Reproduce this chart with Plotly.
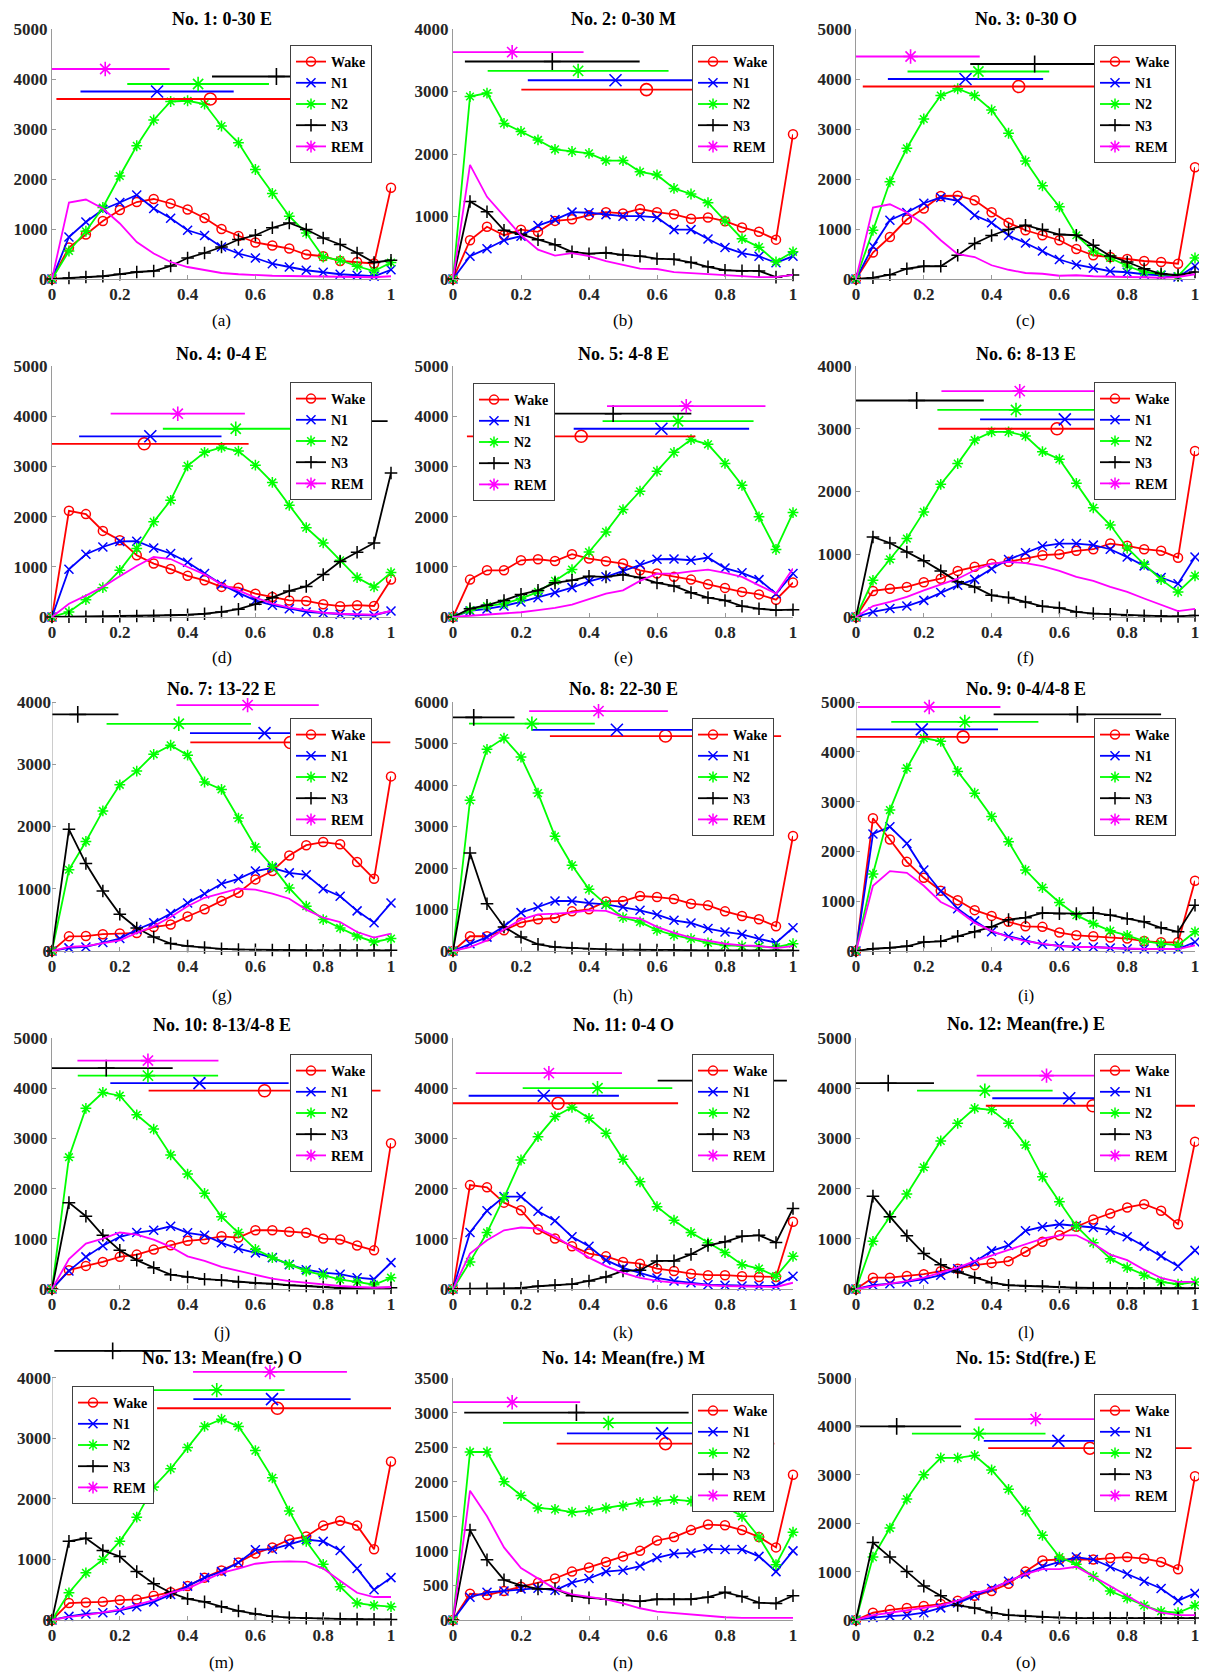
import plotly.graph_objects as go

# ---------------- data ----------------
x_bins = [0.0, 0.05, 0.1, 0.15, 0.2, 0.25, 0.3, 0.35, 0.4, 0.45, 0.5,
          0.55, 0.6, 0.65, 0.7, 0.75, 0.8, 0.85, 0.9, 0.95, 1.0]
stages = ["Wake", "N1", "N2", "N3", "REM"]
titles = ["No. 1: 0-30 E", "No. 2: 0-30 M", "No. 3: 0-30 O", "No. 4: 0-4 E",
          "No. 5: 4-8 E", "No. 6: 8-13 E", "No. 7: 13-22 E", "No. 8: 22-30 E",
          "No. 9: 0-4/4-8 E", "No. 10: 8-13/4-8 E", "No. 11: 0-4 O",
          "No. 12: Mean(fre.) E", "No. 13: Mean(fre.) O", "No. 14: Mean(fre.) M",
          "No. 15: Std(fre.) E"]
panel_labels = ["(a)", "(b)", "(c)", "(d)", "(e)", "(f)", "(g)", "(h)", "(i)",
                "(j)", "(k)", "(l)", "(m)", "(n)", "(o)"]
y_max = [5000, 4000, 5000, 5000, 5000, 4000, 4000, 6000, 5000, 5000, 5000, 5000, 4000, 3500, 5000]
y_step = [1000, 1000, 1000, 1000, 1000, 1000, 1000, 1000, 1000, 1000, 1000, 1000, 1000, 500, 1000]

# panel 1
p01_wake = [0, 630, 890, 1160, 1380, 1540, 1600, 1510, 1390, 1220, 1000, 860, 730, 670, 610, 490, 455, 360, 340, 310, 1825]
p01_n1 = [0, 840, 1140, 1390, 1530, 1680, 1410, 1215, 975, 870, 640, 510, 420, 305, 240, 175, 135, 95, 75, 55, 185]
p01_n2 = [0, 560, 955, 1430, 2060, 2665, 3180, 3550, 3565, 3500, 3060, 2725, 2190, 1710, 1255, 920, 440, 375, 255, 160, 330]
p01_n3 = [0, 20, 40, 55, 95, 140, 160, 260, 420, 520, 640, 790, 875, 1025, 1120, 990, 820, 690, 520, 330, 375]
p01_rem = [0, 1530, 1590, 1410, 1110, 740, 510, 340, 240, 175, 120, 95, 75, 65, 60, 55, 45, 40, 40, 35, 55]
p01_bar_y = [3600, 3750, 3900, 4050, 4200]
p01_bar_mean = [0.467, 0.31, 0.431, 0.662, 0.157]
p01_bar_std = [0.454, 0.226, 0.209, 0.19, 0.19]

# panel 2
p02_wake = [0, 620, 835, 700, 790, 755, 930, 955, 1020, 1070, 1050, 1120, 1070, 1035, 965, 985, 925, 825, 755, 630, 2315]
p02_n1 = [0, 365, 485, 620, 685, 855, 950, 1070, 1060, 1030, 1005, 1005, 985, 790, 790, 640, 505, 415, 365, 260, 365]
p02_n2 = [0, 2920, 2975, 2490, 2360, 2225, 2075, 2040, 2010, 1895, 1895, 1715, 1665, 1450, 1360, 1220, 930, 645, 510, 275, 435]
p02_n3 = [0, 1240, 1075, 780, 715, 630, 550, 435, 405, 420, 385, 365, 325, 315, 265, 195, 140, 130, 130, 30, 65]
p02_rem = [0, 1825, 1315, 1005, 700, 470, 375, 415, 365, 285, 220, 165, 160, 110, 95, 75, 60, 45, 30, 30, 65]
p02_bar_y = [3030, 3180, 3330, 3480, 3630]
p02_bar_mean = [0.569, 0.478, 0.368, 0.292, 0.174]
p02_bar_std = [0.368, 0.258, 0.266, 0.257, 0.21]

# panel 3
p03_wake = [0, 530, 840, 1190, 1410, 1660, 1665, 1575, 1335, 1125, 975, 875, 775, 600, 475, 440, 400, 360, 340, 305, 2235]
p03_n1 = [0, 655, 1175, 1330, 1515, 1630, 1565, 1275, 1125, 870, 720, 560, 390, 285, 220, 155, 135, 95, 75, 40, 260]
p03_n2 = [0, 975, 1945, 2615, 3200, 3670, 3805, 3670, 3380, 2915, 2360, 1865, 1445, 875, 560, 420, 260, 140, 95, 60, 420]
p03_n3 = [0, 25, 85, 205, 255, 255, 475, 710, 870, 990, 1075, 990, 890, 875, 675, 460, 340, 205, 105, 75, 140]
p03_rem = [0, 1430, 1495, 1330, 1095, 775, 495, 440, 275, 185, 120, 105, 65, 75, 55, 40, 40, 35, 25, 40, 95]
p03_bar_y = [3850, 4000, 4150, 4300, 4450]
p03_bar_mean = [0.48, 0.323, 0.361, 0.527, 0.161]
p03_bar_std = [0.46, 0.229, 0.209, 0.19, 0.204]

# panel 4
p04_wake = [0, 2115, 2050, 1715, 1530, 1230, 1065, 955, 820, 730, 600, 585, 465, 400, 330, 320, 255, 215, 235, 220, 745]
p04_n1 = [0, 950, 1250, 1395, 1505, 1510, 1375, 1265, 1090, 865, 650, 480, 330, 235, 165, 100, 80, 55, 40, 35, 120]
p04_n2 = [0, 100, 345, 585, 930, 1365, 1895, 2325, 3010, 3280, 3380, 3305, 3025, 2680, 2225, 1780, 1475, 1130, 785, 600, 885]
p04_n3 = [0, 5, 5, 5, 15, 20, 25, 35, 45, 65, 100, 155, 255, 385, 520, 610, 845, 1105, 1290, 1475, 2870]
p04_rem = [0, 265, 425, 600, 810, 1015, 1195, 1155, 995, 850, 650, 530, 385, 265, 185, 135, 85, 65, 55, 45, 120]
p04_bar_y = [3450, 3600, 3750, 3900, 4050]
p04_bar_mean = [0.272, 0.29, 0.542, 0.86, 0.371]
p04_bar_std = [0.308, 0.21, 0.215, 0.13, 0.198]

# panel 5
p05_wake = [0, 745, 930, 930, 1130, 1150, 1115, 1250, 1165, 1110, 1065, 930, 865, 800, 745, 650, 580, 500, 450, 345, 685]
p05_n1 = [0, 120, 160, 220, 300, 385, 485, 585, 710, 800, 920, 1045, 1150, 1155, 1130, 1185, 975, 880, 745, 465, 865]
p05_n2 = [0, 135, 215, 265, 365, 500, 720, 945, 1295, 1695, 2140, 2505, 2905, 3280, 3535, 3440, 3060, 2625, 1995, 1345, 2080]
p05_n3 = [0, 165, 235, 330, 450, 530, 680, 730, 810, 800, 845, 785, 680, 620, 485, 385, 330, 215, 165, 135, 145]
p05_rem = [0, 25, 55, 65, 95, 135, 180, 245, 350, 465, 530, 720, 865, 865, 910, 945, 880, 800, 630, 465, 965]
p05_bar_y = [3600, 3750, 3900, 4050, 4200]
p05_bar_mean = [0.377, 0.613, 0.662, 0.471, 0.686]
p05_bar_std = [0.336, 0.258, 0.222, 0.23, 0.233]

# panel 6
p06_wake = [0, 415, 450, 480, 555, 610, 735, 800, 850, 880, 930, 985, 1000, 1055, 1080, 1170, 1135, 1080, 1055, 945, 2645]
p06_n1 = [0, 80, 135, 175, 265, 390, 505, 600, 770, 915, 1025, 1130, 1170, 1170, 1145, 1080, 955, 815, 630, 530, 955]
p06_n2 = [0, 585, 920, 1250, 1675, 2115, 2445, 2820, 2950, 2950, 2885, 2635, 2515, 2130, 1740, 1465, 1100, 840, 595, 400, 655]
p06_n3 = [0, 1275, 1180, 1035, 895, 735, 560, 480, 345, 310, 240, 170, 145, 80, 55, 45, 25, 20, 15, 10, 25]
p06_rem = [0, 175, 240, 320, 425, 520, 610, 745, 850, 880, 860, 810, 735, 640, 575, 480, 400, 295, 195, 95, 130]
p06_bar_y = [3000, 3150, 3300, 3450, 3600]
p06_bar_mean = [0.593, 0.616, 0.472, 0.179, 0.483]
p06_bar_std = [0.35, 0.25, 0.232, 0.198, 0.231]

# panel 7
p07_wake = [0, 235, 240, 270, 280, 290, 385, 425, 555, 670, 805, 935, 1150, 1285, 1535, 1700, 1750, 1715, 1430, 1160, 2805]
p07_n1 = [0, 50, 65, 135, 200, 345, 455, 600, 770, 920, 1080, 1160, 1285, 1335, 1255, 1225, 1000, 880, 645, 455, 770]
p07_n2 = [0, 1305, 1760, 2250, 2670, 2890, 3160, 3305, 3145, 2715, 2595, 2135, 1670, 1360, 1010, 720, 505, 370, 240, 145, 200]
p07_n3 = [0, 1955, 1405, 965, 590, 370, 225, 120, 80, 55, 35, 25, 20, 15, 10, 10, 10, 10, 10, 10, 10]
p07_rem = [0, 65, 80, 120, 170, 290, 400, 545, 720, 855, 930, 1000, 985, 920, 840, 665, 535, 465, 305, 215, 280]
p07_bar_y = [3350, 3500, 3650, 3800, 3950]
p07_bar_mean = [0.703, 0.627, 0.374, 0.076, 0.577]
p07_bar_std = [0.295, 0.22, 0.213, 0.12, 0.21]

# panel 8
p08_wake = [0, 355, 355, 500, 685, 765, 795, 955, 1005, 1195, 1205, 1325, 1300, 1255, 1140, 1100, 955, 845, 765, 595, 2770]
p08_n1 = [0, 175, 335, 595, 925, 1060, 1205, 1205, 1155, 1125, 1060, 980, 875, 740, 675, 540, 460, 400, 295, 200, 560]
p08_n2 = [0, 3630, 4860, 5130, 4675, 3805, 2765, 2065, 1485, 1125, 805, 700, 500, 380, 295, 195, 135, 120, 110, 95, 175]
p08_n3 = [0, 2360, 1140, 580, 335, 160, 95, 70, 55, 40, 30, 30, 25, 25, 15, 15, 15, 15, 15, 10, 15]
p08_rem = [0, 95, 255, 520, 755, 885, 900, 925, 980, 965, 820, 780, 580, 435, 320, 255, 175, 135, 120, 70, 120]
p08_bar_y = [5180, 5330, 5480, 5630, 5780]
p08_bar_mean = [0.625, 0.482, 0.232, 0.061, 0.428]
p08_bar_std = [0.34, 0.25, 0.185, 0.12, 0.204]

# panel 9
p09_wake = [0, 2665, 2240, 1790, 1470, 1210, 1020, 820, 705, 585, 495, 485, 370, 315, 295, 270, 250, 200, 175, 175, 1410]
p09_n1 = [0, 2350, 2495, 2160, 1625, 1200, 850, 605, 385, 295, 215, 135, 100, 80, 80, 60, 45, 40, 40, 40, 180]
p09_n2 = [0, 1545, 2830, 3670, 4275, 4210, 3605, 3170, 2700, 2195, 1625, 1275, 975, 720, 550, 405, 315, 200, 150, 115, 385]
p09_n3 = [0, 45, 65, 95, 180, 195, 295, 385, 485, 630, 670, 765, 750, 750, 765, 720, 650, 585, 465, 385, 920]
p09_rem = [0, 1310, 1605, 1570, 1310, 985, 820, 565, 405, 280, 200, 150, 100, 80, 80, 60, 45, 40, 40, 40, 115]
p09_bar_y = [4300, 4450, 4600, 4750, 4900]
p09_bar_mean = [0.316, 0.194, 0.321, 0.653, 0.216]
p09_bar_std = [0.5, 0.225, 0.217, 0.247, 0.21]

# panel 10
p10_wake = [0, 375, 460, 540, 640, 685, 785, 870, 960, 990, 1050, 1025, 1170, 1170, 1140, 1120, 1005, 985, 865, 770, 2905]
p10_n1 = [0, 360, 640, 860, 1040, 1125, 1170, 1250, 1120, 1070, 920, 805, 720, 625, 485, 385, 325, 295, 225, 195, 525]
p10_n2 = [0, 2625, 3600, 3915, 3850, 3470, 3185, 2670, 2290, 1905, 1440, 1125, 790, 625, 485, 355, 275, 185, 140, 85, 225]
p10_n3 = [0, 1720, 1450, 1070, 770, 575, 425, 285, 240, 195, 175, 140, 120, 105, 75, 60, 40, 20, 20, 20, 25]
p10_rem = [0, 595, 905, 1005, 1125, 1085, 985, 840, 650, 560, 440, 360, 275, 205, 155, 120, 85, 60, 40, 25, 40]
p10_bar_y = [3950, 4100, 4250, 4400, 4550]
p10_bar_mean = [0.627, 0.435, 0.283, 0.16, 0.283]
p10_bar_std = [0.342, 0.263, 0.207, 0.196, 0.208]

# panel 11
p11_wake = [0, 2070, 2025, 1720, 1570, 1185, 1005, 850, 705, 650, 540, 505, 405, 360, 305, 275, 275, 255, 240, 240, 1340]
p11_n1 = [0, 1125, 1560, 1840, 1840, 1550, 1360, 1040, 850, 575, 420, 325, 220, 160, 125, 85, 75, 60, 60, 60, 255]
p11_n2 = [0, 540, 1125, 1820, 2570, 3035, 3435, 3620, 3400, 3105, 2585, 2135, 1640, 1370, 1125, 920, 725, 485, 405, 255, 650]
p11_n3 = [0, 5, 5, 5, 20, 55, 75, 95, 160, 240, 360, 375, 560, 560, 690, 870, 940, 1050, 1070, 925, 1605]
p11_rem = [0, 705, 970, 1170, 1225, 1205, 1050, 840, 625, 455, 320, 220, 160, 125, 95, 75, 60, 55, 40, 40, 125]
p11_bar_y = [3700, 3850, 4000, 4150, 4300]
p11_bar_mean = [0.309, 0.267, 0.425, 0.792, 0.282]
p11_bar_std = [0.353, 0.221, 0.22, 0.19, 0.215]

# panel 12
p12_wake = [0, 225, 225, 260, 295, 355, 405, 475, 520, 555, 740, 940, 1070, 1240, 1385, 1505, 1625, 1690, 1560, 1290, 2935]
p12_n1 = [0, 75, 105, 140, 195, 275, 405, 540, 760, 870, 1160, 1240, 1290, 1260, 1225, 1170, 1040, 850, 660, 455, 770]
p12_n2 = [0, 950, 1440, 1890, 2425, 2950, 3300, 3600, 3570, 3300, 2870, 2235, 1740, 1250, 920, 605, 425, 275, 140, 95, 140]
p12_n3 = [0, 1850, 1440, 1060, 705, 485, 340, 225, 125, 75, 60, 55, 40, 25, 20, 20, 15, 15, 15, 15, 15]
p12_rem = [0, 60, 105, 155, 225, 325, 425, 555, 670, 770, 890, 1005, 1070, 1070, 905, 685, 575, 385, 220, 140, 140]
p12_bar_y = [3650, 3800, 3950, 4100, 4250]
p12_bar_mean = [0.699, 0.629, 0.38, 0.095, 0.562]
p12_bar_std = [0.316, 0.227, 0.2, 0.135, 0.206]

# panel 13
p13_wake = [0, 280, 290, 300, 330, 340, 400, 460, 560, 700, 820, 950, 1100, 1200, 1330, 1380, 1560, 1640, 1560, 1170, 2620]
p13_n1 = [0, 60, 100, 120, 160, 220, 300, 420, 560, 700, 800, 950, 1160, 1170, 1250, 1330, 1300, 1150, 850, 500, 700]
p13_n2 = [0, 450, 780, 1000, 1300, 1700, 2200, 2500, 2850, 3200, 3320, 3200, 2800, 2350, 1800, 1300, 920, 550, 280, 240, 220]
p13_n3 = [0, 1300, 1350, 1150, 1050, 800, 600, 450, 350, 300, 220, 150, 100, 60, 40, 30, 25, 20, 15, 10, 10]
p13_rem = [0, 50, 80, 120, 170, 250, 330, 450, 520, 650, 780, 850, 930, 960, 970, 960, 850, 650, 450, 380, 380]
p13_bar_y = [3500, 3650, 3800, 4450, 4100]
p13_bar_mean = [0.665, 0.649, 0.486, 0.179, 0.643]
p13_bar_std = [0.355, 0.232, 0.2, 0.172, 0.227]

# panel 14
p14_wake = [0, 380, 360, 420, 480, 540, 600, 700, 760, 840, 920, 1000, 1150, 1200, 1300, 1380, 1370, 1300, 1200, 1050, 2100]
p14_n1 = [0, 330, 400, 420, 450, 460, 430, 540, 600, 700, 720, 780, 900, 960, 970, 1030, 1020, 1020, 920, 700, 1000]
p14_n2 = [0, 2430, 2430, 2000, 1800, 1620, 1600, 1560, 1580, 1620, 1650, 1700, 1720, 1740, 1720, 1700, 1640, 1500, 1200, 800, 1270]
p14_n3 = [0, 1300, 870, 580, 500, 450, 450, 350, 320, 300, 290, 270, 300, 300, 300, 330, 400, 340, 250, 240, 350]
p14_rem = [0, 1870, 1500, 1050, 750, 600, 450, 370, 330, 300, 240, 170, 120, 100, 70, 50, 40, 30, 30, 25, 30]
p14_bar_y = [2550, 2700, 2850, 3000, 3150]
p14_bar_mean = [0.625, 0.615, 0.457, 0.363, 0.174]
p14_bar_std = [0.32, 0.28, 0.31, 0.33, 0.2]

# panel 15
p15_wake = [0, 150, 210, 250, 290, 330, 400, 500, 600, 750, 1000, 1230, 1250, 1250, 1250, 1280, 1300, 1270, 1200, 1050, 2970]
p15_n1 = [0, 50, 80, 100, 150, 250, 350, 500, 650, 800, 950, 1100, 1200, 1300, 1250, 1100, 950, 800, 650, 400, 550]
p15_n2 = [0, 1300, 1900, 2500, 3000, 3350, 3350, 3400, 3100, 2700, 2250, 1750, 1300, 1150, 900, 600, 450, 300, 180, 150, 300]
p15_n3 = [0, 1600, 1300, 1000, 700, 500, 300, 250, 150, 100, 80, 60, 50, 40, 40, 40, 40, 40, 40, 40, 40]
p15_rem = [0, 100, 150, 200, 250, 300, 400, 550, 650, 800, 950, 1050, 1050, 1100, 900, 700, 500, 300, 150, 100, 100]
p15_bar_y = [3550, 3700, 3850, 4000, 4150]
p15_bar_mean = [0.69, 0.597, 0.362, 0.12, 0.53]
p15_bar_std = [0.3, 0.22, 0.197, 0.19, 0.18]

series_by_panel = [
    [p01_wake, p01_n1, p01_n2, p01_n3, p01_rem], [p02_wake, p02_n1, p02_n2, p02_n3, p02_rem],
    [p03_wake, p03_n1, p03_n2, p03_n3, p03_rem], [p04_wake, p04_n1, p04_n2, p04_n3, p04_rem],
    [p05_wake, p05_n1, p05_n2, p05_n3, p05_rem], [p06_wake, p06_n1, p06_n2, p06_n3, p06_rem],
    [p07_wake, p07_n1, p07_n2, p07_n3, p07_rem], [p08_wake, p08_n1, p08_n2, p08_n3, p08_rem],
    [p09_wake, p09_n1, p09_n2, p09_n3, p09_rem], [p10_wake, p10_n1, p10_n2, p10_n3, p10_rem],
    [p11_wake, p11_n1, p11_n2, p11_n3, p11_rem], [p12_wake, p12_n1, p12_n2, p12_n3, p12_rem],
    [p13_wake, p13_n1, p13_n2, p13_n3, p13_rem], [p14_wake, p14_n1, p14_n2, p14_n3, p14_rem],
    [p15_wake, p15_n1, p15_n2, p15_n3, p15_rem],
]
bars_by_panel = [
    (p01_bar_y, p01_bar_mean, p01_bar_std), (p02_bar_y, p02_bar_mean, p02_bar_std),
    (p03_bar_y, p03_bar_mean, p03_bar_std), (p04_bar_y, p04_bar_mean, p04_bar_std),
    (p05_bar_y, p05_bar_mean, p05_bar_std), (p06_bar_y, p06_bar_mean, p06_bar_std),
    (p07_bar_y, p07_bar_mean, p07_bar_std), (p08_bar_y, p08_bar_mean, p08_bar_std),
    (p09_bar_y, p09_bar_mean, p09_bar_std), (p10_bar_y, p10_bar_mean, p10_bar_std),
    (p11_bar_y, p11_bar_mean, p11_bar_std), (p12_bar_y, p12_bar_mean, p12_bar_std),
    (p13_bar_y, p13_bar_mean, p13_bar_std), (p14_bar_y, p14_bar_mean, p14_bar_std),
    (p15_bar_y, p15_bar_mean, p15_bar_std),
]

# ---------------- style ----------------
PAGE_W, PAGE_H = 1207, 1675
OFF = 8                       # default page (body) margin of the html page
W, H = PAGE_W - OFF, PAGE_H - OFF


def fx(px):  # page pixel -> paper fraction (x)
    return (px - OFF) / W


def fy(px):  # page pixel (from top) -> paper fraction (y)
    return 1 - (px - OFF) / H


colors = ["#FF0000", "#0000FF", "#00FF00", "#000000", "#FF00FF"]
symbols = ["circle-open", "x-thin-open", "asterisk-open", "cross-thin-open", "asterisk-open"]
SERIF = "Liberation Serif, Times New Roman, serif"
AXIS_GREY = "#9a9a9a"
col_px = [(52, 391), (453, 793), (856, 1195)]
row_px = [(29, 279), (366, 617), (702, 951), (1038, 1289), (1378, 1620)]
title_px = [19, 354, 689, 1025, 1358]
label_px = [320, 658, 995, 1332, 1662]
legend_left = {4: 17, 12: 8}

fig = go.Figure()
layout = dict(
    width=W, height=H, autosize=False,
    margin=dict(l=0, r=0, t=0, b=0, pad=0, autoexpand=False),
    paper_bgcolor="white", plot_bgcolor="white",
    showlegend=True,
    annotations=[], shapes=[],
)

for i in range(15):
    r, c = divmod(i, 3)
    n = i + 1
    xa = "x" if n == 1 else f"x{n}"
    ya = "y" if n == 1 else f"y{n}"
    lg = "legend" if n == 1 else f"legend{n}"
    x0, x1 = col_px[c]
    yt, yb = row_px[r]
    by, bm, bs = bars_by_panel[i]

    # some mean/std bars sit above the top tick: extend range above it
    top_val = max(y_max[i], max(by) + 0.03 * y_max[i])
    px_per_unit = (yb - yt) / y_max[i]
    dom_top_px = yt - (top_val - y_max[i]) * px_per_unit
    extended = top_val > y_max[i]
    tickvals = list(range(0, y_max[i] + 1, y_step[i]))

    layout["xaxis" if n == 1 else f"xaxis{n}"] = dict(
        domain=[fx(x0), fx(x1)], anchor=ya, range=[0, 1],
        tickmode="array", tickvals=[0, 0.2, 0.4, 0.6, 0.8, 1],
        ticktext=["0", "0.2", "0.4", "0.6", "0.8", "1"],
        showgrid=False, zeroline=False, showline=True, linecolor=AXIS_GREY, linewidth=1,
        ticks="inside", ticklen=4, tickcolor=AXIS_GREY,
        tickfont=dict(family=SERIF, size=17, color="#262626", weight="bold"),
    )
    layout["yaxis" if n == 1 else f"yaxis{n}"] = dict(
        domain=[fy(yb), fy(dom_top_px)], anchor=xa, range=[0, top_val],
        tickmode="array", tickvals=tickvals, ticktext=[str(v) for v in tickvals],
        showgrid=False, zeroline=False, showline=not extended, linecolor=AXIS_GREY, linewidth=1,
        ticks="inside", ticklen=4, tickcolor=AXIS_GREY,
        tickfont=dict(family=SERIF, size=17, color="#262626", weight="bold"),
    )
    if extended:
        layout["shapes"].append(dict(
            type="line", xref=xa, yref=ya, x0=0, x1=0, y0=0, y1=y_max[i],
            line=dict(color=AXIS_GREY, width=1), layer="above",
        ))

    # legend
    if i in legend_left:
        lx, lxa = fx(x0 + 20), "left"
        ly = fy(yt + legend_left[i])
    else:
        lx, lxa = fx(x1 - 19), "right"
        ly = fy(yt + 16)
    layout[lg] = dict(
        x=lx, xanchor=lxa, y=ly, yanchor="top", xref="paper", yref="paper",
        bgcolor="white", bordercolor="#404040", borderwidth=1,
        font=dict(family=SERIF, size=14, color="#000000", weight="bold"),
        itemwidth=30, tracegroupgap=0, traceorder="normal",
    )

    # curves
    series = series_by_panel[i]
    for k in range(5):
        is_rem = (k == 4)
        fig.add_trace(go.Scatter(
            x=x_bins, y=series[k], xaxis=xa, yaxis=ya,
            mode="lines" if is_rem else "lines+markers",
            line=dict(color=colors[k], width=1.8),
            marker=dict(symbol=symbols[k], size=9, color=colors[k],
                        line=dict(color=colors[k], width=1.5)),
            name=stages[k], legend=lg, showlegend=not is_rem,
            cliponaxis=False, hoverinfo="skip",
        ))
    # legend-only entry for REM (marker shown in legend)
    fig.add_trace(go.Scatter(
        x=[None], y=[None], xaxis=xa, yaxis=ya, mode="lines+markers",
        line=dict(color=colors[4], width=1.8),
        marker=dict(symbol=symbols[4], size=10, color=colors[4],
                    line=dict(color=colors[4], width=1.5)),
        name=stages[4], legend=lg, showlegend=True,
    ))

    # mean +/- std bars
    for k in range(5):
        plus = min(bs[k], 1 - bm[k])
        minus = min(bs[k], bm[k])
        fig.add_trace(go.Scatter(
            x=[bm[k]], y=[by[k]], xaxis=xa, yaxis=ya, mode="markers",
            marker=dict(symbol=symbols[k], size=12, color=colors[k],
                        line=dict(color=colors[k], width=1.6)),
            error_x=dict(type="data", symmetric=False, array=[plus], arrayminus=[minus],
                         width=0, thickness=1.8, color=colors[k]),
            showlegend=False, cliponaxis=False, hoverinfo="skip",
        ))

    # title and panel label
    cx = fx((x0 + x1) / 2)
    layout["annotations"].append(dict(
        x=cx, y=fy(title_px[r]), xref="paper", yref="paper",
        text=titles[i], showarrow=False, xanchor="center", yanchor="middle",
        font=dict(family=SERIF, size=18, color="#000000", weight="bold"),
    ))
    layout["annotations"].append(dict(
        x=cx, y=fy(label_px[r]), xref="paper", yref="paper",
        text=panel_labels[i], showarrow=False, xanchor="center", yanchor="middle",
        font=dict(family=SERIF, size=17, color="#000000"),
    ))

fig.update_layout(**layout)
fig.write_html("out.html")
